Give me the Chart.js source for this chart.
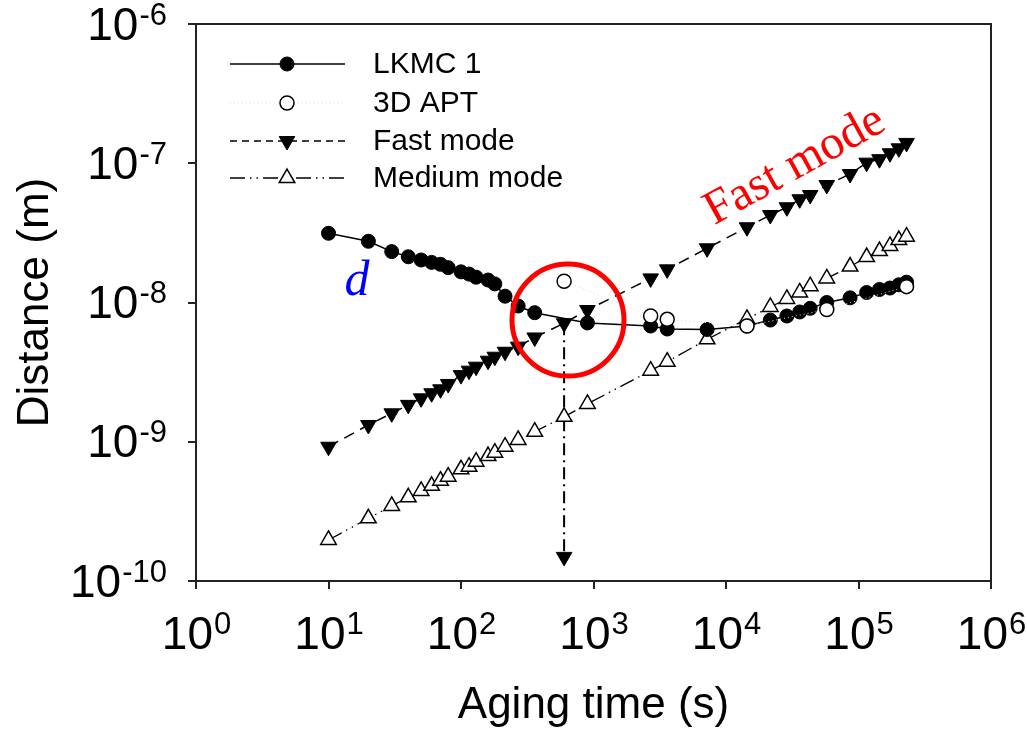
<!DOCTYPE html>
<html>
<head>
<meta charset="utf-8">
<script src="https://cdn.jsdelivr.net/npm/chart.js@4.4.1/dist/chart.umd.min.js"></script>
<style>
  html, body { margin: 0; padding: 0; background: #ffffff; }
  #wrap { width: 1027px; height: 731px; }
</style>
</head>
<body>
<div id="wrap"><canvas id="c" width="1027" height="731"></canvas></div>
<script>
// ---------------- data ----------------
const seriesNames = ['LKMC 1', '3D APT', 'Fast mode', 'Medium mode'];

const timeLKMC = [10,20,30,40,50,60,70,80,100,115,130,160,180,215,270,360,900,2700,3600,7200,
  14400,21600,28800,36000,43200,57600,86400,115200,144000,172800,201600,230400];
const lkmc = [3.14e-8,2.75e-8,2.32e-8,2.13e-8,2.02e-8,1.94e-8,1.88e-8,1.78e-8,1.66e-8,1.60e-8,
  1.52e-8,1.45e-8,1.36e-8,1.11e-8,9.44e-9,8.45e-9,7.13e-9,6.78e-9,6.45e-9,6.40e-9,
  6.78e-9,7.48e-9,8.0e-9,8.55e-9,9.08e-9,1.0e-8,1.08e-8,1.18e-8,1.24e-8,1.27e-8,1.34e-8,1.40e-8];

const timeAPT = [600,2700,3600,14400,57600,230400];
const apt = [1.42e-8,8.0e-9,7.57e-9,6.78e-9,8.91e-9,1.30e-8];

const timeMode = [10,20,30,40,50,60,70,80,100,115,130,160,180,215,270,360,600,900,2700,3600,7200,
  14400,21600,28800,36000,43200,57600,86400,115200,144000,172800,201600,230400];
const fastMode = [9.21e-10,1.32e-9,1.60e-9,1.84e-9,2.05e-9,2.23e-9,2.38e-9,2.60e-9,3.01e-9,3.24e-9,
  3.46e-9,3.82e-9,4.08e-9,4.43e-9,4.82e-9,5.61e-9,7.10e-9,8.83e-9,1.49e-8,1.73e-8,2.45e-8,
  3.47e-8,4.25e-8,4.83e-8,5.51e-8,5.92e-8,6.98e-8,8.37e-8,1.01e-7,1.07e-7,1.18e-7,1.28e-7,1.40e-7];
const mediumMode = [1.97e-10,2.82e-10,3.46e-10,3.99e-10,4.43e-10,4.83e-10,5.25e-10,5.61e-10,6.34e-10,6.62e-10,
  7.19e-10,7.90e-10,8.34e-10,9.21e-10,1.03e-9,1.18e-9,1.51e-9,1.87e-9,3.24e-9,3.76e-9,5.44e-9,
  7.62e-9,9.29e-9,1.06e-8,1.18e-8,1.31e-8,1.49e-8,1.81e-8,2.12e-8,2.34e-8,2.55e-8,2.81e-8,2.97e-8];

// vertical dash-dot arrow marking the crossover time
const arrowTime = [600, 600];
const arrowVal = [7.1e-9, 1.49e-10];

// highlighted crossover region (red circle centre)
const circleTime = 642;
const circleVal = 7.48e-9;

// tick labels: base 10 with exponents
const xTickExp = [0,1,2,3,4,5,6];
const yTickExp = [-10,-9,-8,-7,-6];
const xTitle = 'Aging time (s)';
const yTitle = 'Distance (m)';
const noteFast = 'Fast mode';
const noteD = 'd';

// ----------------------------------------------------------------
const pts = (xs, ys) => xs.map((x, i) => ({x: x, y: ys[i]}));
const SANS = "'Liberation Sans', Arial, sans-serif";
const SERIF = "'Liberation Serif', 'Times New Roman', serif";

const datasets = [
  { label: seriesNames[1], data: pts(timeAPT, apt), order: 0, showLine: true,
    borderColor: '#dcdcdc', borderWidth: 1, borderDash: [1,3],
    pointStyle: 'circle', pointRadius: 7, pointBackgroundColor: '#ffffff',
    pointBorderColor: '#000000', pointBorderWidth: 1.5, pointRotation: 0 },
  { label: seriesNames[0], data: pts(timeLKMC, lkmc), order: 1, showLine: true,
    borderColor: '#000000', borderWidth: 1.5, borderDash: [],
    pointStyle: 'circle', pointRadius: 7, pointBackgroundColor: '#000000',
    pointBorderColor: '#000000', pointBorderWidth: 1, pointRotation: 0 },
  { label: seriesNames[2], data: pts(timeMode, fastMode), order: 2, showLine: true,
    borderColor: '#000000', borderWidth: 1.5, borderDash: [11,7],
    pointStyle: 'triangle', pointRotation: 180, pointRadius: 9, pointBackgroundColor: '#000000',
    pointBorderColor: '#000000', pointBorderWidth: 1 },
  { label: seriesNames[3], data: pts(timeMode, mediumMode), order: 3, showLine: true,
    borderColor: '#000000', borderWidth: 1.3, borderDash: [15,5,1.5,5,1.5,5],
    pointStyle: 'triangle', pointRotation: 0, pointRadius: 9, pointBackgroundColor: '#ffffff',
    pointBorderColor: '#000000', pointBorderWidth: 1.5 },
  { label: 'arrow', data: pts(arrowTime, arrowVal), order: 4, showLine: true,
    borderColor: '#000000', borderWidth: 2, borderDash: [12,5,2,5],
    pointStyle: 'triangle', pointRotation: 180, pointRadius: [0, 9], pointBackgroundColor: '#000000',
    pointBorderColor: '#000000', pointBorderWidth: 1 }
];

function drawMarker(ctx, style, x, y, r, rot, fill, stroke, bw) {
  ctx.save();
  ctx.beginPath();
  if (style === 'circle') {
    ctx.arc(x, y, r, 0, Math.PI * 2);
  } else {
    let a = rot * Math.PI / 180;
    ctx.moveTo(x + Math.sin(a) * r, y - Math.cos(a) * r);
    a += 2 * Math.PI / 3;
    ctx.lineTo(x + Math.sin(a) * r, y - Math.cos(a) * r);
    a += 2 * Math.PI / 3;
    ctx.lineTo(x + Math.sin(a) * r, y - Math.cos(a) * r);
    ctx.closePath();
  }
  ctx.fillStyle = fill; ctx.fill();
  ctx.lineWidth = bw; ctx.strokeStyle = stroke; ctx.setLineDash([]); ctx.stroke();
  ctx.restore();
}

function drawPow(ctx, x, y, exp, align) {
  const base = '10', sup = String(exp);
  ctx.save();
  ctx.fillStyle = '#000000';
  ctx.textBaseline = 'middle';
  ctx.textAlign = 'left';
  ctx.font = '46px ' + SANS;
  const wb = ctx.measureText(base).width;
  ctx.font = '31px ' + SANS;
  const ws = ctx.measureText(sup).width;
  const total = wb + ws;
  let x0 = align === 'center' ? x - total / 2 : x - total;
  ctx.font = '46px ' + SANS;
  ctx.fillText(base, x0, y);
  ctx.font = '31px ' + SANS;
  ctx.fillText(sup, x0 + wb + 1, y - 11);
  ctx.restore();
}

const decor = {
  id: 'decor',
  afterDatasetsDraw(chart) {
    const ctx = chart.ctx, a = chart.chartArea;
    const xs = chart.scales.x, ys = chart.scales.y;
    // frame top / right
    ctx.save();
    ctx.strokeStyle = '#222222'; ctx.lineWidth = 2;
    ctx.beginPath();
    ctx.moveTo(a.left, a.top); ctx.lineTo(a.right, a.top); ctx.lineTo(a.right, a.bottom);
    ctx.stroke();
    ctx.restore();

    // red circle
    ctx.save();
    ctx.beginPath();
    ctx.arc(xs.getPixelForValue(circleTime), ys.getPixelForValue(circleVal), 56, 0, Math.PI * 2);
    ctx.strokeStyle = '#ff0000'; ctx.lineWidth = 5; ctx.stroke();
    ctx.restore();

    // tick labels
    xTickExp.forEach(e => drawPow(ctx, xs.getPixelForValue(Math.pow(10, e)), 636, e, 'center'));
    yTickExp.forEach(e => drawPow(ctx, 166, ys.getPixelForValue(Math.pow(10, e)) + 3, e, 'right'));

    // axis titles
    ctx.save();
    ctx.fillStyle = '#000000';
    ctx.font = '44px ' + SANS;
    ctx.textAlign = 'center'; ctx.textBaseline = 'middle';
    ctx.fillText(xTitle, (a.left + a.right) / 2, 706);
    ctx.translate(36, (a.top + a.bottom) / 2);
    ctx.rotate(-Math.PI / 2);
    ctx.fillText(yTitle, 0, 0);
    ctx.restore();

    // annotations
    ctx.save();
    ctx.fillStyle = '#ff0000';
    ctx.font = '48px ' + SERIF;
    ctx.textAlign = 'center'; ctx.textBaseline = 'middle';
    ctx.translate(795, 166);
    ctx.rotate(-29 * Math.PI / 180);
    ctx.fillText(noteFast, 0, 0);
    ctx.restore();
    ctx.save();
    ctx.fillStyle = '#0000ff';
    ctx.font = 'italic 50px ' + SERIF;
    ctx.textAlign = 'center'; ctx.textBaseline = 'alphabetic';
    ctx.fillText(noteD, 357, 295);
    ctx.restore();

    // legend
    const rows = [64, 103, 141, 178];
    const legendOrder = [1, 0, 2, 3];
    legendOrder.forEach((di, i) => {
      const ds = datasets[di], y = rows[i];
      ctx.save();
      ctx.strokeStyle = ds.borderColor; ctx.lineWidth = ds.borderWidth;
      ctx.setLineDash(i === 2 ? [7,5] : (i === 3 ? [15,5,1.5,5,1.5,5] : ds.borderDash));
      ctx.beginPath(); ctx.moveTo(230, y); ctx.lineTo(345, y); ctx.stroke();
      ctx.restore();
      drawMarker(ctx, ds.pointStyle, 287, y, ds.pointRadius, ds.pointRotation,
        ds.pointBackgroundColor, ds.pointBorderColor, ds.pointBorderWidth);
      ctx.save();
      ctx.fillStyle = '#000000'; ctx.font = '30px ' + SANS;
      ctx.textAlign = 'left'; ctx.textBaseline = 'middle';
      ctx.fillText(ds.label, 373, y + 1);
      ctx.restore();
    });
  }
};

new Chart(document.getElementById('c'), {
  type: 'scatter',
  data: { datasets: datasets },
  options: {
    responsive: false,
    animation: false,
    devicePixelRatio: 1,
    layout: { autoPadding: false, padding: { left: 188, right: 36, top: 24, bottom: 142 } },
    plugins: { legend: { display: false }, tooltip: { enabled: false } },
    elements: { line: { tension: 0 } },
    scales: {
      x: {
        type: 'logarithmic', min: 1, max: 1e6,
        afterBuildTicks: s => { s.ticks = xTickExp.map(e => ({ value: Math.pow(10, e) })); },
        ticks: { display: false },
        grid: { display: true, drawOnChartArea: false, drawTicks: true, tickLength: 8, color: '#222222', lineWidth: 2 },
        border: { display: true, color: '#222222', width: 2 },
        title: { display: false }
      },
      y: {
        type: 'logarithmic', min: 1e-10, max: 1e-6,
        afterBuildTicks: s => { s.ticks = yTickExp.map(e => ({ value: Math.pow(10, e) })); },
        ticks: { display: false },
        grid: { display: true, drawOnChartArea: false, drawTicks: true, tickLength: 8, color: '#222222', lineWidth: 2 },
        border: { display: true, color: '#222222', width: 2 },
        title: { display: false }
      }
    }
  },
  plugins: [decor]
});
</script>
</body>
</html>
